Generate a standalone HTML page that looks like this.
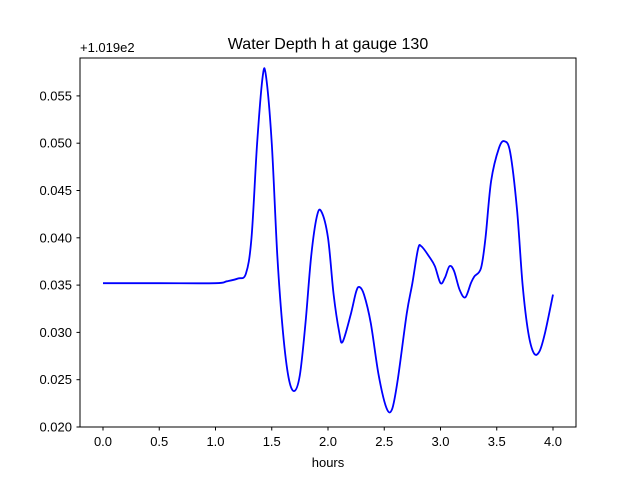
<!DOCTYPE html>
<html><head><meta charset="utf-8"><style>
body{margin:0;background:#fff;}
svg{display:block;font-family:"Liberation Sans","DejaVu Sans",sans-serif;}
</style></head><body>
<svg id="chart" width="640" height="480">
<rect width="640" height="480" fill="#fff"/>
<text x="328" y="49" font-size="16" text-anchor="middle">Water Depth h at gauge 130</text>
<text x="80" y="52" font-size="13">+1.019e2</text>
<text x="328" y="467" font-size="13" text-anchor="middle">hours</text>
<g id="ticks"></g>
<path id="line" fill="none" stroke="#0000ff" stroke-width="1.8" stroke-linejoin="round"/>
<rect x="80" y="58" width="496" height="369" fill="none" stroke="#000" stroke-width="1"/>
</svg>
<script>
const times=[0,0.5,1.0,1.1,1.2,1.27,1.32,1.37,1.42,1.45,1.5,1.55,1.6,1.65,1.7,1.75,1.8,1.85,1.9,1.94,2.0,2.05,2.1,2.13,2.2,2.25,2.28,2.32,2.38,2.45,2.52,2.57,2.62,2.7,2.75,2.8,2.83,2.9,2.95,3.0,3.04,3.08,3.12,3.17,3.22,3.27,3.3,3.36,3.4,3.45,3.52,3.57,3.62,3.68,3.73,3.78,3.83,3.88,3.93,4.0];
const depths=[0.0352,0.0352,0.0352,0.0354,0.0357,0.0362,0.040,0.050,0.0571,0.057,0.050,0.038,0.030,0.0252,0.0238,0.0255,0.031,0.038,0.0422,0.0428,0.040,0.034,0.030,0.029,0.0318,0.0343,0.0348,0.034,0.031,0.0255,0.0220,0.0219,0.025,0.032,0.0352,0.0388,0.0391,0.038,0.037,0.0352,0.0358,0.037,0.0365,0.0345,0.0337,0.0352,0.0359,0.0368,0.040,0.046,0.0495,0.0502,0.049,0.043,0.035,0.030,0.0278,0.028,0.030,0.0340];
const xTicks=[0,0.5,1.0,1.5,2.0,2.5,3.0,3.5,4.0];
const yTicks=[0.020,0.025,0.030,0.035,0.040,0.045,0.050,0.055];
const xs=t=>103+t*112.5;
const ys=v=>427-(v-0.020)/0.005*47.3;
const NS='http://www.w3.org/2000/svg';
const g=document.getElementById('ticks');
function mk(tag,attrs){const e=document.createElementNS(NS,tag);for(const k in attrs)e.setAttribute(k,attrs[k]);return e;}
xTicks.forEach(t=>{
 const l=mk('line',{x1:xs(t),x2:xs(t),y1:427,y2:430.5,stroke:'#000'});
 
 
 g.appendChild(l);
 const tx=mk('text',{x:xs(t),y:446,'font-size':13,'text-anchor':'middle'});
 
 
 tx.textContent=t.toFixed(1);g.appendChild(tx);
});
yTicks.forEach(v=>{
 const l=mk('line',{x1:76.5,x2:80,y1:ys(v),y2:ys(v),stroke:'#000'});
 
 
 g.appendChild(l);
 const tx=mk('text',{x:72,y:ys(v)+4.5,'font-size':13,'text-anchor':'end'});
 
 
 tx.textContent=v.toFixed(3);g.appendChild(tx);
});
// Catmull-Rom smoothing
const P=times.map((t,i)=>[xs(t),ys(depths[i])]);
let d='M'+P[0][0]+','+P[0][1];
for(let i=0;i<P.length-1;i++){
 const p0=P[Math.max(i-1,0)],p1=P[i],p2=P[i+1],p3=P[Math.min(i+2,P.length-1)];
 const c1=[p1[0]+(p2[0]-p0[0])/6,p1[1]+(p2[1]-p0[1])/6];
 const c2=[p2[0]-(p3[0]-p1[0])/6,p2[1]-(p3[1]-p1[1])/6];
 d+=' C'+c1+' '+c2+' '+p2;
}
document.getElementById('line').setAttribute('d',d);
</script>
</body></html>
